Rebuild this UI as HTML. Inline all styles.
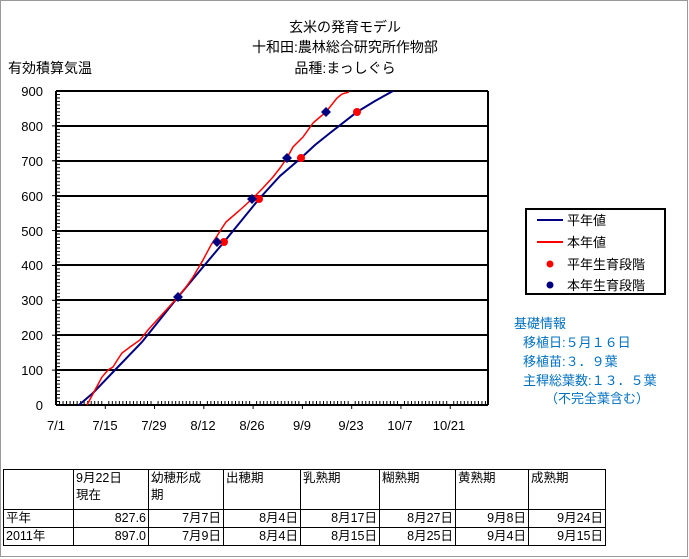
<!DOCTYPE html>
<html><head><meta charset="utf-8"><style>
body{margin:0;background:#fff;width:689px;height:559px;overflow:hidden;position:relative;font-family:"Liberation Sans","Noto Sans CJK JP",sans-serif}
svg{position:absolute;left:0;top:0}
table{position:absolute;left:3px;top:469px;border-collapse:collapse;table-layout:fixed;width:602px;font-size:12.5px;font-family:"Liberation Sans","Noto Sans CJK JP",sans-serif}
td{border:1px solid #000;padding:0 2px;line-height:17px;vertical-align:top;white-space:nowrap;overflow:hidden}
td.r{text-align:right}
</style></head><body>
<svg width="689" height="559" font-family="Liberation Sans, Noto Sans CJK JP, sans-serif">
<rect x="0.5" y="0.5" width="687" height="556" fill="none" stroke="#999"/>
<g font-size="14" text-anchor="middle" fill="#000">
<text x="345" y="32">玄米の発育モデル</text>
<text x="345" y="52">十和田:農林総合研究所作物部</text>
<text x="345" y="73">品種:まっしぐら</text>
</g>
<text x="8" y="73" font-size="14">有効積算気温</text>
<g stroke="#000" stroke-width="2">
<line x1="56" y1="91" x2="488" y2="91"/>
<line x1="56" y1="126" x2="488" y2="126"/>
<line x1="56" y1="161" x2="488" y2="161"/>
<line x1="56" y1="196" x2="488" y2="196"/>
<line x1="56" y1="231" x2="488" y2="231"/>
<line x1="56" y1="265" x2="488" y2="265"/>
<line x1="56" y1="300" x2="488" y2="300"/>
<line x1="56" y1="335" x2="488" y2="335"/>
<line x1="56" y1="370" x2="488" y2="370"/>
<line x1="56" y1="405" x2="488" y2="405"/>
<line x1="56" y1="91" x2="56" y2="405"/>
<line x1="488" y1="91" x2="488" y2="405"/>
</g>
<g stroke="#000" stroke-width="1" id="ticks"></g>
<g font-size="13" text-anchor="end">
<text x="43" y="96">900</text><text x="43" y="131">800</text><text x="43" y="166">700</text>
<text x="43" y="201">600</text><text x="43" y="236">500</text><text x="43" y="270">400</text>
<text x="43" y="305">300</text><text x="43" y="340">200</text><text x="43" y="375">100</text>
<text x="43" y="410">0</text>
</g>
<g font-size="13" text-anchor="middle">
<text x="56" y="430">7/1</text><text x="105" y="430">7/15</text><text x="154" y="430">7/29</text>
<text x="203" y="430">8/12</text><text x="252" y="430">8/26</text><text x="302" y="430">9/9</text>
<text x="351" y="430">9/23</text><text x="400" y="430">10/7</text><text x="449" y="430">10/21</text>
</g>
<polyline fill="none" stroke="#000080" stroke-width="2" points="79,405 93,393 115,370 142,342 178,297 203,267 224,242 259,199 280,176 301,158 315,145 330,133 357,112 375,101 393,91"/>
<polyline fill="none" stroke="#ff0000" stroke-width="1.5" points="87,405 95,390 102,377 108,370 113,367 118,359 122,353 130,347 140,340 148,330 157,320 168,308 178,297 186,287 193,277 203,260 211,245 217,236 222,228 226,222 233,216 240,210 252,199 262,189 273,177 280,168 287,158 293,147 303,137 313,123 320,117 326,112 337,98 342,94 349,92"/>
<g fill="#ff0000">
<circle cx="224" cy="242" r="4"/><circle cx="259" cy="199" r="4"/><circle cx="301" cy="158" r="4"/><circle cx="357" cy="112" r="4"/>
</g>
<g fill="#000080">
<path d="M178 292l5 5-5 5-5-5z"/><path d="M217 237l5 5-5 5-5-5z"/><path d="M252 194l5 5-5 5-5-5z"/><path d="M287 153l5 5-5 5-5-5z"/><path d="M326 107l5 5-5 5-5-5z"/>
</g>
<rect x="526" y="209" width="139" height="85" fill="#fff" stroke="#000" stroke-width="2"/>
<line x1="537" y1="220" x2="563" y2="220" stroke="#000080" stroke-width="2"/>
<line x1="537" y1="242" x2="563" y2="242" stroke="#ff0000" stroke-width="2"/>
<circle cx="550" cy="264" r="3.5" fill="#ff0000"/>
<circle cx="550" cy="285" r="3.5" fill="#000080"/>
<g font-size="13">
<text x="567" y="225">平年値</text><text x="567" y="247">本年値</text>
<text x="567" y="269">平年生育段階</text><text x="567" y="290">本年生育段階</text>
</g>
<g font-size="13" fill="#0070c0">
<text x="514" y="328">基礎情報</text>
<text x="523" y="347">移植日:５月１６日</text>
<text x="523" y="366">移植苗:３．９葉</text>
<text x="523" y="385">主稈総葉数:１３．５葉</text>
<text x="545" y="403">（不完全葉含む）</text>
</g>
</svg>
<table>
<colgroup><col style="width:70px"><col style="width:75px"><col style="width:75px"><col style="width:77px"><col style="width:79px"><col style="width:76px"><col style="width:73px"><col style="width:77px"></colgroup>
<tr style="height:40px"><td></td><td>9月22日<br>現在</td><td>幼穂形成<br>期</td><td>出穂期</td><td>乳熟期</td><td>糊熟期</td><td>黄熟期</td><td>成熟期</td></tr>
<tr><td>平年</td><td class="r">827.6</td><td class="r">7月7日</td><td class="r">8月4日</td><td class="r">8月17日</td><td class="r">8月27日</td><td class="r">9月8日</td><td class="r">9月24日</td></tr>
<tr><td>2011年</td><td class="r">897.0</td><td class="r">7月9日</td><td class="r">8月4日</td><td class="r">8月15日</td><td class="r">8月25日</td><td class="r">9月4日</td><td class="r">9月15日</td></tr>
</table>
<script>
var g=document.getElementById('ticks'),s='';
for(var i=1;i<90;i++){var y=405-i*3.489;s+='<line x1="56" y1="'+y+'" x2="'+(i%10?60:52)+'" y2="'+y+'"/>';}
for(var d=1;d<123;d++){var x=56+d*3.52;s+='<line x1="'+x+'" y1="405" x2="'+x+'" y2="'+(d%14?401:409)+'"/>';}
g.innerHTML=s;
</script>
</body></html>
